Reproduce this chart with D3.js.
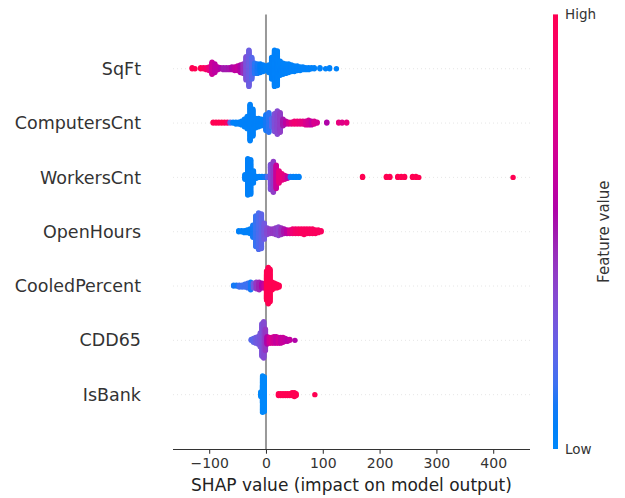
<!DOCTYPE html>
<html><head><meta charset="utf-8">
<script src="https://cdn.jsdelivr.net/npm/d3@7"></script>
<style>body{margin:0;background:#fff}svg{display:block}</style>
</head><body>
<svg id="c" width="625" height="498"></svg>
<script>
// ---------- DATA ----------
// features top to bottom
const featureNames = ["SqFt","ComputersCnt","WorkersCnt","OpenHours","CooledPercent","CDD65","IsBank"];
// each bin: [SHAP value, number of points, feature value 0(low)..1(high)]
const binsSqFt = [[-130,2,1],[-125,1,1],[-115,2,1],[-110,2,0.95],[-105,3,0.9],[-100,5,0.8],[-95,14,0.65],[-90,10,0.6],[-85,4,0.6],[-80,2,0.55],[-75,3,0.5],[-70,3,0.5],[-65,3,0.52],[-60,4,0.55],[-55,5,0.6],[-50,6,0.62],[-45,9,0.55],[-40,11,0.45],[-35,26,0.32],[-30,40,0.26],[-25,24,0.2],[-20,12,0.12],[-15,11,0.1],[-10,10,0.08],[-5,8,0.06],[0,6,0.05],[5,9,0.05],[10,24,0.05],[15,40,0.04],[20,38,0.04],[25,16,0.04],[30,13,0.04],[35,11,0.04],[40,10,0.04],[45,8,0.04],[50,7,0.04],[55,6,0.04],[60,5,0.04],[65,4,0.04],[70,3,0.04],[75,3,0.04],[80,2,0.04],[85,2,0.04],[95,2,0.04],[105,1,0.04],[112,2,0.04],[124,1,0.04]];
const binsComputersCnt = [[-93,2,1],[-88,2,1],[-83,2,1],[-78,2,1],[-73,2,1],[-68,2,0.9],[-63,2,0.2],[-58,2,0.05],[-53,3,0.05],[-48,3,0.05],[-43,5,0.05],[-38,9,0.05],[-33,14,0.05],[-28,40,0.05],[-23,30,0.05],[-18,11,0.05],[-13,10,0.05],[-8,8,0.05],[-3,6,0.05],[0,18,0.1],[5,22,0.12],[10,10,0.2],[15,20,0.32],[20,26,0.36],[25,22,0.4],[30,8,0.5],[35,4,0.6],[40,3,0.7],[45,3,0.8],[50,4,0.85],[55,4,0.85],[60,4,0.82],[65,4,0.78],[70,5,0.72],[75,6,0.68],[80,5,0.62],[85,4,0.72],[90,2,0.7],[107,2,0.55],[128,2,0.8],[134,2,0.75],[142,2,0.8]];
const binsWorkersCnt = [[-37,6,0.05],[-32,40,0.05],[-27,38,0.05],[-22,14,0.05],[-17,3,0.05],[-12,2,0.05],[-7,2,0.05],[-2,2,0.1],[3,2,0.2],[8,28,0.32],[13,34,0.4],[18,26,0.65],[23,14,0.8],[28,8,0.8],[33,5,0.75],[38,3,0.6],[43,2,0.1],[48,2,0.05],[53,2,0.05],[58,2,0.05],[170,2,1],[212,2,1],[218,2,1],[232,2,1],[238,2,1],[244,2,1],[258,2,1],[264,2,1],[269,1,1],[435,1,1]];
const binsOpenHours = [[-48,2,0.05],[-43,2,0.05],[-38,3,0.05],[-33,4,0.05],[-28,6,0.05],[-23,14,0.1],[-18,34,0.14],[-13,40,0.18],[-8,38,0.22],[-3,18,0.28],[2,8,0.35],[7,6,0.4],[12,6,0.42],[17,8,0.4],[22,10,0.38],[27,8,0.45],[32,6,0.52],[37,5,0.6],[42,5,0.72],[47,6,0.85],[52,6,0.9],[57,6,0.92],[62,6,0.95],[67,7,0.95],[72,6,0.95],[77,6,0.95],[82,6,0.95],[87,5,0.95],[92,4,0.95],[97,2,0.95]];
const binsCooledPercent = [[-57,2,0.1],[-52,2,0.1],[-47,3,0.15],[-42,3,0.15],[-37,4,0.15],[-32,6,0.15],[-27,9,0.1],[-22,6,0.28],[-17,8,0.42],[-12,9,0.48],[-7,6,0.55],[-3,5,0.65],[1,32,1],[4,40,1],[7,36,1],[11,9,1],[15,6,1],[19,5,1],[23,3,1]];
const binsCDD65 = [[-26,2,0.2],[-22,5,0.22],[-18,7,0.26],[-14,9,0.28],[-10,16,0.3],[-7,36,0.32],[-4,40,0.35],[-1,24,0.42],[2,9,0.55],[6,7,0.68],[10,7,0.72],[14,8,0.68],[18,8,0.62],[22,7,0.68],[26,7,0.62],[30,6,0.64],[34,4,0.62],[38,3,0.58],[42,2,0.62],[51,1,0.55]];
const binsIsBank = [[-9,6,0],[-6,40,0],[-3,38,0],[22,3,1],[26,3,1],[30,3,1],[34,3,1],[38,3,1],[42,3,1],[46,4,1],[50,5,1],[53,3,1],[86,1,1]];
const xTicks = [-100,0,100,200,300,400];
const colorTickLabels = ["Low","High"];
const xLabel = "SHAP value (impact on model output)";
const colorLabel = "Feature value";

// ---------- DRAWING ----------
const allBins = [binsSqFt,binsComputersCnt,binsWorkersCnt,binsOpenHours,binsCooledPercent,binsCDD65,binsIsBank];
const svg = d3.select("#c");
const plot = {left:173, right:530, top:14.4, bottom:449};
const x = d3.scaleLinear().domain([-163.7,464.8]).range([plot.left,plot.right]);
const y = d3.scaleLinear().domain([-1,featureNames.length]).range([plot.bottom,plot.top]);
const font = "DejaVu Sans, sans-serif";

function redBlue(t){
  const L = t < 0.5 ? 54 + (40-54)*(t/0.5) : 40 + (54-40)*((t-0.5)/0.5);
  const C = 70 + 20*t;
  const h = 266.93 + (380.32-266.93)*t;
  return d3.hcl(h % 360, C, L).formatHex();
}

// grid lines
const gGrid = svg.append("g");
featureNames.forEach((f,k)=>{
  const pos = featureNames.length-1-k;
  gGrid.append("line").attr("x1",plot.left).attr("x2",plot.right)
    .attr("y1",y(pos)).attr("y2",y(pos))
    .attr("stroke","#cccccc").attr("stroke-width",0.7).attr("stroke-dasharray","0.7 3.3");
});
// zero line
svg.append("line").attr("x1",x(0)).attr("x2",x(0)).attr("y1",plot.top).attr("y2",plot.bottom)
  .attr("stroke","#999999").attr("stroke-width",2);

// points
const gPts = svg.append("g");
allBins.forEach((bins,k)=>{
  const pos = featureNames.length-1-k;
  const maxLayer = d3.max(bins, b=>Math.ceil((b[1]-1)/2));
  const unit = 0.36/(maxLayer+1);
  const pts = [];
  bins.forEach(([v,n,c])=>{
    for(let i=0;i<n;i++){
      const ys = Math.ceil(i/2)*((i%2)*2-1);
      pts.push({v, yy: pos + ys*unit, c});
    }
  });
  gPts.selectAll(null).data(pts).enter().append("circle")
    .attr("cx",d=>x(d.v)).attr("cy",d=>y(d.yy)).attr("r",2.7)
    .attr("fill",d=>redBlue(d.c));
});

// x axis
const xAxis = d3.axisBottom(x).tickValues(xTicks).tickSize(4.7).tickPadding(4)
  .tickFormat(d=> d<0 ? "\u2212"+Math.abs(d) : String(d));
const gx = svg.append("g").attr("transform",`translate(0,${plot.bottom})`).call(xAxis);
gx.select(".domain").attr("stroke","#333333").attr("stroke-width",1.07)
  .attr("d",`M${plot.left},0.5H${plot.right}`);
gx.selectAll(".tick line").attr("stroke","#333333").attr("stroke-width",1.07);
gx.selectAll(".tick text").attr("fill","#333333").attr("font-family",font).attr("font-size",14);

svg.append("text").attr("x",(plot.left+plot.right)/2).attr("y",491)
  .attr("text-anchor","middle").attr("font-family",font).attr("font-size",17).attr("fill","#222")
  .text(xLabel);

// feature labels
featureNames.forEach((f,k)=>{
  const pos = featureNames.length-1-k;
  svg.append("text").attr("x",141).attr("y",y(pos)).attr("dy","0.35em")
    .attr("text-anchor","end").attr("font-family",font).attr("font-size",17.5).attr("fill","#333333")
    .text(f);
});

// colorbar
const defs = svg.append("defs");
const grad = defs.append("linearGradient").attr("id","cb").attr("x1",0).attr("y1",1).attr("x2",0).attr("y2",0);
d3.range(0,1.0001,0.05).forEach(t=>{
  grad.append("stop").attr("offset",t).attr("stop-color",redBlue(t));
});
const cb = {x:553, w:5, top:14.4, bottom:449};
svg.append("rect").attr("x",cb.x).attr("y",cb.top).attr("width",cb.w).attr("height",cb.bottom-cb.top)
  .attr("fill","url(#cb)");
const cbScale = d3.scaleLinear().domain([0,1]).range([cb.bottom,cb.top]);
colorTickLabels.forEach((lab,i)=>{
  svg.append("text").attr("x",565).attr("y",cbScale(i)).attr("dy","0.35em")
    .attr("font-family",font).attr("font-size",13.5).attr("fill","#333333").text(lab);
});
svg.append("text").attr("transform",`translate(609,${(cb.top+cb.bottom)/2}) rotate(-90)`)
  .attr("text-anchor","middle").attr("font-family",font).attr("font-size",15).attr("fill","#333333")
  .text(colorLabel);
</script>
</body></html>
